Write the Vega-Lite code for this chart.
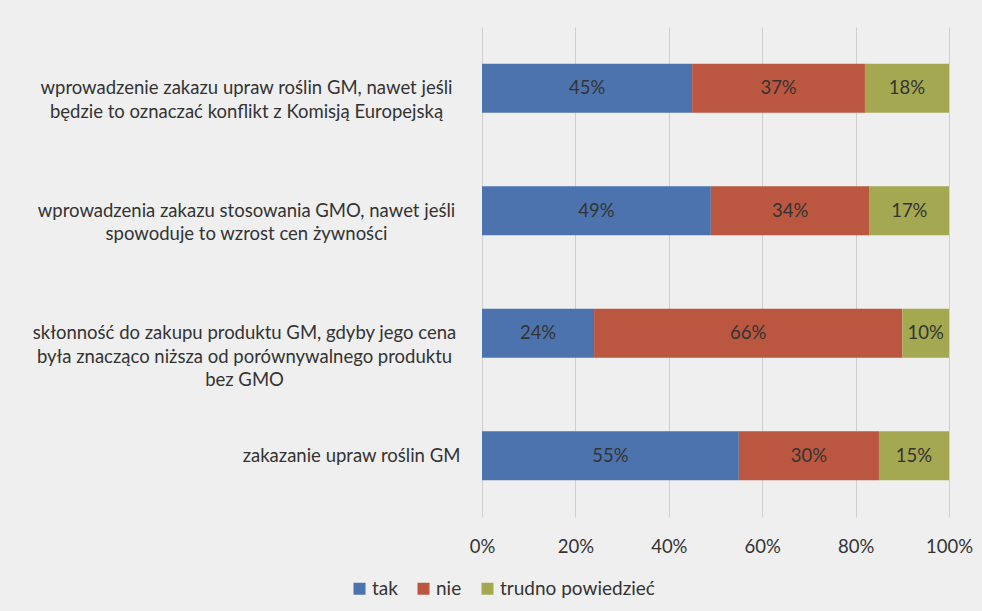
{
  "$schema": "https://vega.github.io/schema/vega-lite/v6.json",
  "width": 467,
  "height": 490,
  "autosize": {"type": "none"},
  "padding": {"left": 482, "top": 27, "right": 33, "bottom": 94},
  "background": "#efefef",
  "config": {
    "view": {"stroke": null},
    "font": "Lato",
    "text": {"font": "Lato"}
  },
  "data": {
    "values": [
      {"q": "wprowadzenie zakazu upraw roślin GM, nawet jeśli|będzie to oznaczać konflikt z Komisją Europejską", "s": "tak", "k": 1, "v": 0.45},
      {"q": "wprowadzenie zakazu upraw roślin GM, nawet jeśli|będzie to oznaczać konflikt z Komisją Europejską", "s": "nie", "k": 2, "v": 0.37},
      {"q": "wprowadzenie zakazu upraw roślin GM, nawet jeśli|będzie to oznaczać konflikt z Komisją Europejską", "s": "trudno powiedzieć", "k": 3, "v": 0.18},
      {"q": "wprowadzenia zakazu stosowania GMO, nawet jeśli|spowoduje to wzrost cen żywności", "s": "tak", "k": 1, "v": 0.49},
      {"q": "wprowadzenia zakazu stosowania GMO, nawet jeśli|spowoduje to wzrost cen żywności", "s": "nie", "k": 2, "v": 0.34},
      {"q": "wprowadzenia zakazu stosowania GMO, nawet jeśli|spowoduje to wzrost cen żywności", "s": "trudno powiedzieć", "k": 3, "v": 0.17},
      {"q": "skłonność do zakupu produktu GM, gdyby jego cena|była znacząco niższa od porównywalnego produktu|bez GMO", "s": "tak", "k": 1, "v": 0.24},
      {"q": "skłonność do zakupu produktu GM, gdyby jego cena|była znacząco niższa od porównywalnego produktu|bez GMO", "s": "nie", "k": 2, "v": 0.66},
      {"q": "skłonność do zakupu produktu GM, gdyby jego cena|była znacząco niższa od porównywalnego produktu|bez GMO", "s": "trudno powiedzieć", "k": 3, "v": 0.10},
      {"q": "zakazanie upraw roślin GM", "s": "tak", "k": 1, "v": 0.55},
      {"q": "zakazanie upraw roślin GM", "s": "nie", "k": 2, "v": 0.30},
      {"q": "zakazanie upraw roślin GM", "s": "trudno powiedzieć", "k": 3, "v": 0.15}
    ]
  },
  "transform": [
    {"stack": "v", "groupby": ["q"], "sort": [{"field": "k", "order": "ascending"}], "as": ["v0", "v1"]},
    {"calculate": "(datum.v0 + datum.v1) / 2", "as": "vm"}
  ],
  "encoding": {
    "y": {
      "field": "q",
      "type": "nominal",
      "sort": null,
      "title": null,
      "scale": {"paddingInner": 0.6, "paddingOuter": 0.3},
      "axis": {
        "domain": false,
        "ticks": false,
        "labelExpr": "split(datum.label, '|')",
        "labelAlign": "center",
        "labelBaseline": "middle",
        "labelFontSize": 18.5,
        "labelLineHeight": 23.5,
        "labelColor": "#333333",
        "labelLimit": 0,
        "labelPadding": {
          "condition": [
            {"test": "datum.value === 'zakazanie upraw roślin GM'", "value": 131},
            {"test": "indexof(datum.value, 'skłonność') === 0", "value": 238}
          ],
          "value": 236
        }
      }
    }
  },
  "layer": [
    {
      "mark": {"type": "bar"},
      "encoding": {
        "x": {
          "field": "v0",
          "type": "quantitative",
          "title": null,
          "scale": {"domain": [0, 1], "nice": false},
          "axis": {
            "format": ".0%",
            "values": [0, 0.2, 0.4, 0.6, 0.8, 1],
            "domain": false,
            "ticks": false,
            "grid": true,
            "gridColor": "#cfcfcf",
            "gridWidth": 1,
            "labelFontSize": 18.5,
            "labelColor": "#333333",
            "labelPadding": 20,
            "labelFlush": false
          }
        },
        "x2": {"field": "v1"},
        "color": {
          "field": "s",
          "type": "nominal",
          "sort": ["tak", "nie", "trudno powiedzieć"],
          "scale": {"domain": ["tak", "nie", "trudno powiedzieć"], "range": ["#4d73ae", "#bb5740", "#a4a951"]},
          "legend": {
            "title": null,
            "orient": "none",
            "direction": "horizontal",
            "legendX": -132,
            "legendY": 552,
            "symbolType": "square",
            "symbolSize": 144,
            "symbolStrokeWidth": 0,
            "labelFontSize": 19,
            "labelColor": "#333333",
            "labelOffset": 3,
            "columnPadding": 16
          }
        }
      }
    },
    {
      "mark": {"type": "text", "fontSize": 18.5, "color": "#333333", "baseline": "middle"},
      "encoding": {
        "x": {"field": "vm", "type": "quantitative"},
        "text": {"field": "v", "type": "quantitative", "format": ".0%"}
      }
    }
  ]
}
